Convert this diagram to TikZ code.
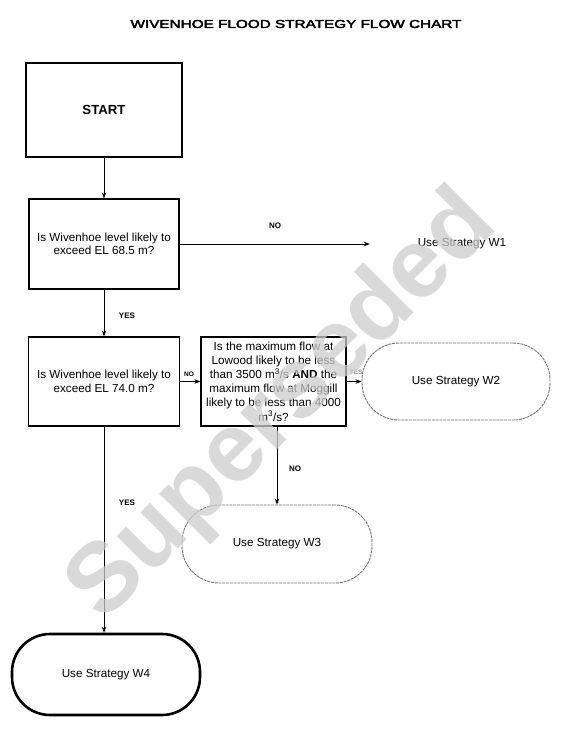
\documentclass[tikz,border=0pt]{standalone}
\usepackage{fontspec}
\setmainfont{Liberation Sans}
\newfontfamily\heavyfont[FakeBold=3]{Liberation Sans}
\usepackage{graphicx}
\usetikzlibrary{arrows.meta}
\definecolor{wmark}{gray}{0.8}
\begin{document}
\begin{tikzpicture}[x=1pt,y=-1pt,
  box/.style={draw, line width=1.3pt, align=center, inner sep=2pt,
    font=\fontsize{11.7}{13.4}\selectfont},
  term/.style={align=center, inner sep=2pt, font=\fontsize{11.7}{13.4}\selectfont},
  faint/.style={draw=black!55, line width=0.9pt, dash pattern=on 3pt off 0.8pt},
  arr/.style={-{Stealth[length=6pt,width=4.5pt]}, line width=0.8pt},
  lab/.style={font=\bfseries\fontsize{8}{9}\selectfont, inner sep=0pt},
  smalllab/.style={font=\bfseries\fontsize{6.5}{7}\selectfont, inner sep=0pt}]
\useasboundingbox (0,0) rectangle (570,731);

% title
\node[font=\heavyfont\fontsize{11.5}{13}\selectfont] (title) at (296,24)
  {\scalebox{1.33}[1]{WIVENHOE FLOOD STRATEGY FLOW CHART}};

% boxes
\node[box, line width=1.5pt, minimum width=156, minimum height=94,
  font=\bfseries\fontsize{13.2}{15}\selectfont] (start) at (104,110) {START};
\node[box, minimum width=150, minimum height=90] (q1) at (104,244)
  {Is Wivenhoe level likely to\\ exceed EL 68.5 m?};
\node[term, minimum width=184, minimum height=77] (w1) at (462,244) {Use Strategy W1};
\node[box, minimum width=151, minimum height=89] (q2) at (104,381.5)
  {Is Wivenhoe level likely to\\ exceed EL 74.0 m?};
\node[box, minimum width=145, minimum height=89, inner sep=1pt,
  font=\fontsize{11.7}{14.2}\selectfont] (q3) at (273.5,381.5)
  {Is the maximum flow at\\ Lowood likely to be less\\ than 3500 m\textsuperscript{3}/s \textbf{AND} the\\
   maximum flow at Moggill\\ likely to be less than 4000\\ m\textsuperscript{3}/s?};
\node[term, faint, rounded corners=37pt, minimum width=188, minimum height=77] (w2)
  at (456,381.5) {Use Strategy W2};
\node[term, faint, rounded corners=37pt, minimum width=190, minimum height=78] (w3)
  at (277,544) {Use Strategy W3};
\node[term, draw, line width=2.6pt, rounded corners=38pt, minimum width=188,
  minimum height=81] (w4) at (106,674.5) {Use Strategy W4};

% connectors
\draw[arr] (start) -- (q1);
\draw[arr] (q1) -- (w1);
\draw[arr] (q1) -- (q2);
\draw[arr] (q2) -- (q3);
\draw[arr] (q3) -- (w2);
\draw[arr] (q3.south -| w3.north) -- (w3.north);
\draw[arr] (q2.south) -- (q2.south |- w4.north);

% labels
\node[lab] (l1) at (275,226) {NO};
\node[lab] (l2) at (127,316) {YES};
\node[smalllab] (l3) at (189,374) {NO};
\node[smalllab, text=black!45] (l4) at (356,372) {YES};
\node[lab] (l5) at (295,469) {NO};
\node[lab] (l6) at (127,503) {YES};

% watermark
\node[anchor=base west, rotate=45, inner sep=0pt, text=wmark, opacity=0.75,
  font=\bfseries\fontsize{98}{105}\selectfont] (wm) at (103,624) {Superseded};
\end{tikzpicture}
\end{document}
